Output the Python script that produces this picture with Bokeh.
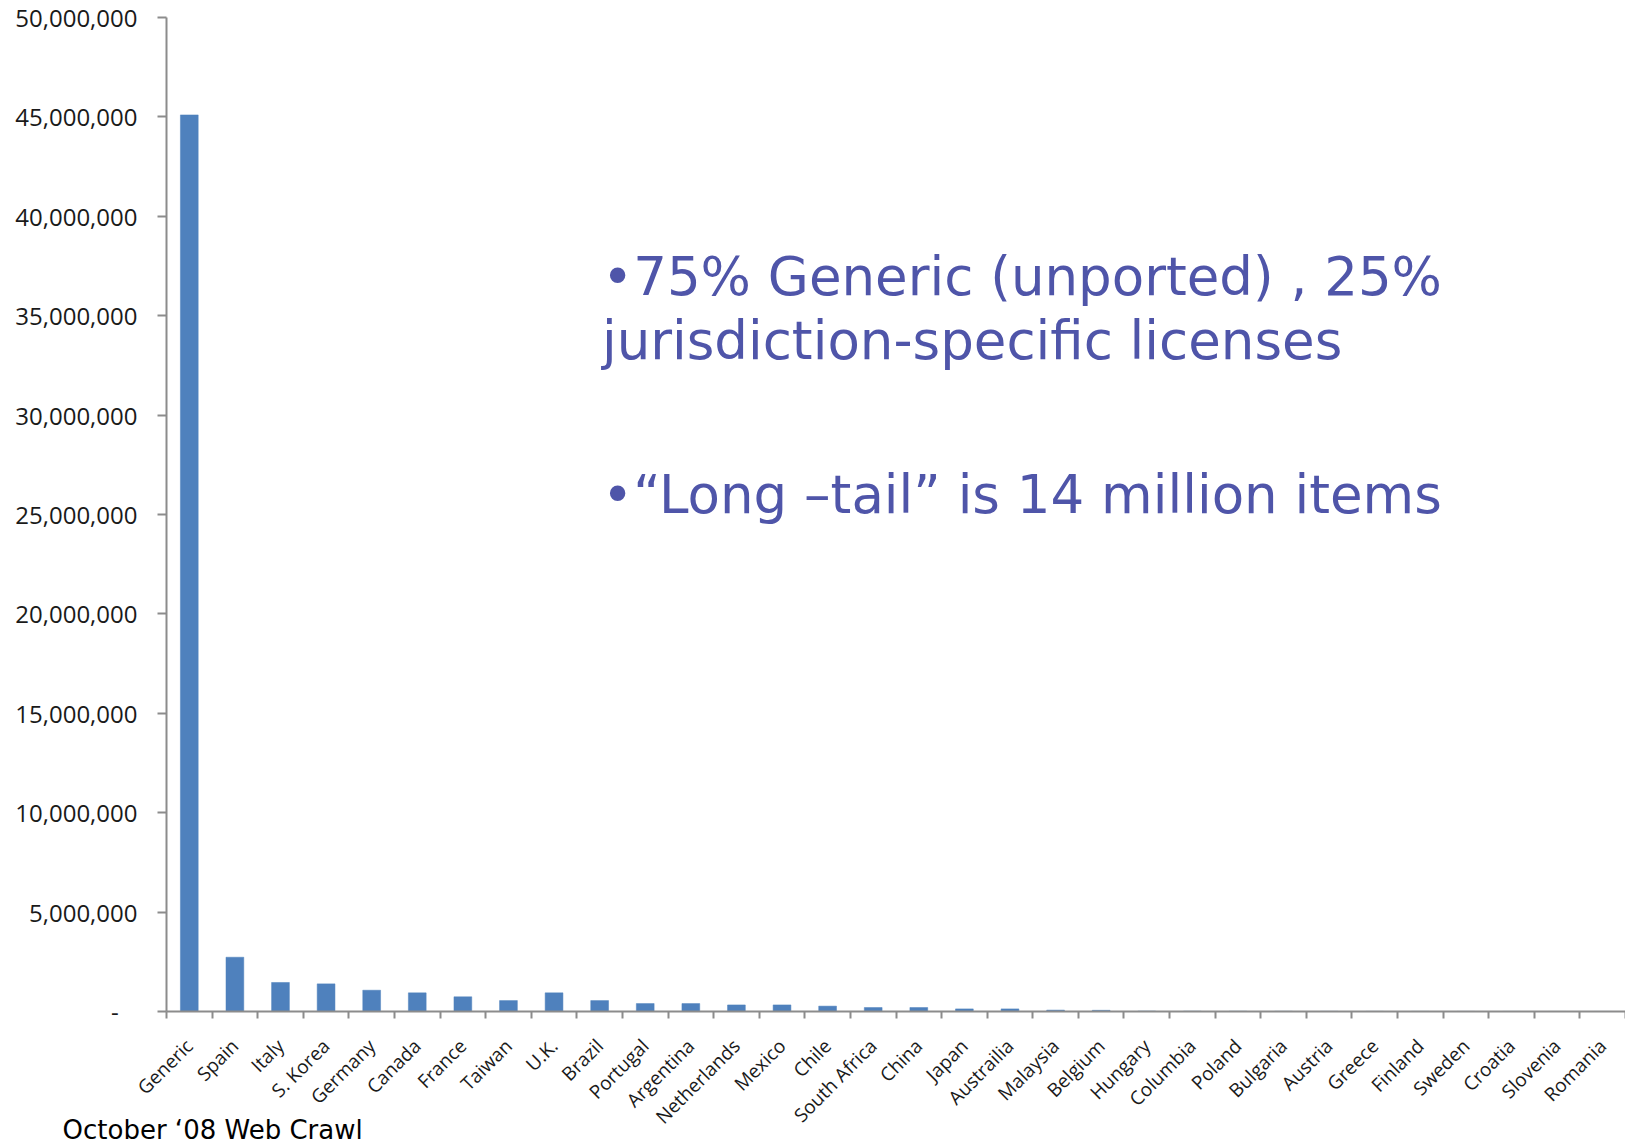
import math
from bokeh.plotting import figure
from bokeh.models import (ColumnDataSource, Range1d, FixedTicker, NumeralTickFormatter,
                          LinearAxis, Label)
from bokeh.embed import file_html
from bokeh.resources import INLINE

# ---- data ----
countries = ["Generic", "Spain", "Italy", "S. Korea", "Germany", "Canada", "France",
             "Taiwan", "U.K.", "Brazil", "Portugal", "Argentina", "Netherlands", "Mexico",
             "Chile", "South Africa", "China", "Japan", "Austrailia", "Malaysia", "Belgium",
             "Hungary", "Columbia", "Poland", "Bulgaria", "Austria", "Greece", "Finland",
             "Sweden", "Croatia", "Slovenia", "Romania"]
items = [45100000, 2730000, 1460000, 1390000, 1070000, 940000, 740000,
         550000, 940000, 550000, 400000, 400000, 330000, 330000,
         270000, 200000, 200000, 130000, 130000, 70000, 60000,
         20000, 15000, 12000, 10000, 8000, 7000, 6000,
         5000, 4000, 3000, 2000]
y_ticks = [0, 5000000, 10000000, 15000000, 20000000, 25000000,
           30000000, 35000000, 40000000, 45000000, 50000000]
y_max = 50000000
note_lines = ["\u202275% Generic (unported) , 25%",
              "jurisdiction-specific licenses",
              "\u2022\u201cLong \u2013tail\u201d is 14 million items"]
footnote = "October \u201808 Web Crawl"

n = len(countries)
centers = [i + 0.5 for i in range(n)]
source = ColumnDataSource(dict(x=centers, top=items, name=countries))

# ---- layout (pixels) ----
W, H = 1625, 1147
left_px, top_px, bottom_px = 166, 17, 1011          # axis corner positions on the canvas
cat_px = (W - left_px) / n                          # pixels per category
val_px = (bottom_px - top_px) / y_max               # pixels per item
x_lo = -left_px / cat_px
y_hi = y_max + top_px / val_px
y_lo = -(H - bottom_px) / val_px

p = figure(width=W, height=H, output_backend="svg", toolbar_location=None,
           x_range=Range1d(x_lo, n), y_range=Range1d(y_lo, y_hi),
           x_axis_type=None, y_axis_type=None,
           min_border_left=0, min_border_top=0, min_border_right=0,
           min_border_bottom=0)
p.outline_line_color = None
p.background_fill_color = "white"
p.border_fill_color = "white"
p.xgrid.visible = False
p.ygrid.visible = False

p.vbar(x="x", top="top", width=0.39, source=source,
       fill_color="#4F81BD", line_color="#4F81BD", line_width=0.5)

axis_color = "#8C8C8C"

# y axis, fixed at x = 0
yaxis = LinearAxis(ticker=FixedTicker(ticks=y_ticks, minor_ticks=[]),
                   formatter=NumeralTickFormatter(format="0,0"),
                   fixed_location=0, bounds=(0, y_max))
yaxis.major_label_overrides = {0: "-\u00a0\u00a0\u00a0"}
yaxis.axis_line_color = axis_color
yaxis.axis_line_width = 2
yaxis.major_tick_line_color = axis_color
yaxis.major_tick_line_width = 2
yaxis.major_tick_out = 9
yaxis.major_tick_in = 0
yaxis.minor_tick_line_color = None
yaxis.major_label_standoff = 20
yaxis.major_label_text_font = "Open Sans"
yaxis.major_label_text_font_size = "24px"
yaxis.major_label_text_color = "#1A1A1A"
p.add_layout(yaxis, "left")

# x axis fixed at y = 0: labels at bar centres, tick marks at category boundaries
xaxis = LinearAxis(ticker=FixedTicker(ticks=centers, minor_ticks=list(range(n + 1))),
                   fixed_location=0, bounds=(0, n))
xaxis.major_label_overrides = {c: name for c, name in zip(centers, countries)}
xaxis.axis_line_color = axis_color
xaxis.axis_line_width = 2
xaxis.major_tick_line_color = None
xaxis.major_tick_out = 0
xaxis.major_tick_in = 0
xaxis.minor_tick_line_color = axis_color
xaxis.minor_tick_line_width = 2
xaxis.minor_tick_out = 7
xaxis.minor_tick_in = 0
xaxis.major_label_orientation = math.pi / 4
xaxis.major_label_standoff = 24
xaxis.major_label_text_font = "Open Sans"
xaxis.major_label_text_font_size = "19px"
xaxis.major_label_text_color = "#1A1A1A"
p.add_layout(xaxis, "below")

# annotation text
note_color = "#4F55A9"
for txt, yy in zip(note_lines, [36950000, 33750000, 26000000]):
    p.add_layout(Label(x=9.55, y=yy, text=txt, text_font="DejaVu Sans",
                       text_font_size="53px", text_color=note_color,
                       text_baseline="alphabetic", text_align="left"))

# footnote
p.add_layout(Label(x=-2.28, y=-5940000, text=footnote, text_font="DejaVu Sans",
                   text_font_size="26px", text_color="black",
                   text_baseline="alphabetic", text_align="left"))

open("out.html", "w").write(file_html(p, INLINE))
